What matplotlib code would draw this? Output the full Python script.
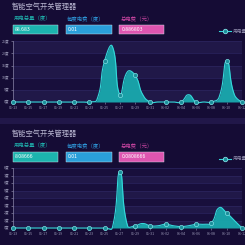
import numpy as np
import matplotlib
matplotlib.use("Agg")
import matplotlib.pyplot as plt
from matplotlib.patches import Rectangle

plt.rcParams['font.family'] = ['Noto Sans CJK SC', 'DejaVu Sans']

# ---- data ----
dates = ['05-13', '05-14', '05-15', '05-16', '05-17', '05-18', '05-19', '05-20',
         '05-21', '05-22', '05-23', '05-24', '05-25', '05-26', '05-27', '05-28',
         '05-29', '05-30', '05-31', '06-01', '06-02', '06-03', '06-04', '06-05',
         '06-06', '06-07', '06-08', '06-09', '06-10', '06-11', '06-12']
usage_top = [0, 0, 0, 0, 0, 0, 0, 0, 0, 0, 0, 1, 17, 23, 3, 12.5,
             11, 3, 0, 0, 0, 0, 0, 3, 0, 0, 0, 2, 17, 3, 0]
usage_bottom = [0, 0, 0, 0, 0, 0, 0, 0, 0, 0, 0, 0, 0, 0, 7.5, 0.3,
                0.3, 0.6, 0.3, 0.3, 0.5, 0.3, 0.2, 0.3, 0.5, 0.5, 0.7, 2.7, 2.0, 1.0, 0]
top_ticks = [0, 5, 10, 15, 20, 25]
bottom_ticks = [0, 1, 2, 3, 4, 5, 6, 7, 8]

title = '智能空气开关管理器'
box_labels = ['用电总量（度）', '每度电费（度）', '总电费（元）']
top_values = ['88.683', '0.01', '0.886803']
bottom_values = ['8.08666', '0.01', '0.0808666']
legend_label = '用电量'

BG = '#150c35'
BAND_A = '#201848'
BAND_B = '#180f3c'
LABEL_COLORS = ['#1fb0ac', '#2d93d4', '#c4439e']
BOX_COLORS = ['#1cb4ae', '#2a9fda', '#de55b0']
LINE = '#35d8da'
FILL = '#19a9ae'

W = H = 245
fig = plt.figure(figsize=(2.45, 2.45), dpi=100)
fig.patch.set_facecolor(BG)


def fx(x):
    return x / W


def fy(y):
    return 1 - y / H


def smooth_path(ax, xs, ys, s=0.5, n=24):
    P = ax.transData.transform(np.column_stack([xs, ys]))
    m = len(P)
    cin = P.copy()
    cout = P.copy()
    for i in range(1, m - 1):
        v = P[i + 1] - P[i - 1]
        lp = np.hypot(*(P[i] - P[i - 1]))
        ln = np.hypot(*(P[i + 1] - P[i]))
        r = ln / (ln + lp) if ln + lp > 0 else 0.5
        cout[i] = P[i] + v * s * r
        cin[i] = P[i] - v * s * (1 - r)
    t = np.linspace(0, 1, n)[:, None]
    segs = []
    for i in range(m - 1):
        a, b, c, d = P[i], cout[i], cin[i + 1], P[i + 1]
        seg = ((1 - t) ** 3) * a + 3 * ((1 - t) ** 2) * t * b + 3 * (1 - t) * t ** 2 * c + t ** 3 * d
        segs.append(seg if i == 0 else seg[1:])
    pts = np.vstack(segs)
    return ax.transData.inverted().transform(pts)


def panel(y0, values, box_vals, ticks, ax_top, ax_bot):
    # title, labels, boxes
    fig.text(fx(12), fy(y0 + 7), title, color='#b9b7d2', fontsize=5.2, va='center', ha='left')
    box_x = [(12.7, 58.3), (66, 111.7), (119.3, 164.3)]
    for (xa, xb), lab, lc, bc, val in zip(box_x, box_labels, LABEL_COLORS, BOX_COLORS, box_vals):
        fig.text(fx(xa + 1), fy(y0 + 18), lab, color=lc, fontsize=3.9, va='center', ha='left')
        fig.patches.append(Rectangle((fx(xa), fy(y0 + 34.5)), fx(xb - xa), (9.5) / H,
                                     transform=fig.transFigure, facecolor=bc,
                                     edgecolor='#d8e8f0', linewidth=0.3, zorder=1))
        fig.text(fx(xa + 2), fy(y0 + 29.7), val, color='white', fontsize=3.7, va='center',
                 ha='left', zorder=5)

    # legend
    fig.lines.append(plt.Line2D([fx(219), fx(231)], [fy(y0 + 31.5)] * 2, transform=fig.transFigure,
                                color=LINE, linewidth=0.8))
    fig.lines.append(plt.Line2D([fx(225)], [fy(y0 + 31.5)], transform=fig.transFigure, marker='o',
                                markersize=3.2, markerfacecolor='#1a8f9a', markeredgecolor='#7fe0e4',
                                markeredgewidth=0.6))
    fig.text(fx(232.5), fy(y0 + 31.5), legend_label, color='#8f8dac', fontsize=3.4, va='center', ha='left')

    ax = fig.add_axes([fx(13), fy(ax_bot), fx(242) - fx(13), (ax_bot - ax_top) / H])
    ax.set_facecolor(BG)
    ax.set_xlim(0, len(dates) - 1)
    ax.set_ylim(ticks[0], ticks[-1])
    for k in range(len(ticks) - 1):
        ax.axhspan(ticks[k], ticks[k + 1], color=BAND_A if k % 2 == 0 else BAND_B, zorder=0, linewidth=0)
    for tk in ticks[1:]:
        ax.axhline(tk, color='#2c2560', linewidth=0.5, zorder=1)

    x = np.arange(len(values))
    curve = smooth_path(ax, x, values)
    ax.fill_between(curve[:, 0], 0, curve[:, 1], color=FILL, alpha=0.95, linewidth=0, zorder=2)
    ax.plot(curve[:, 0], curve[:, 1], color=LINE, linewidth=0.8, zorder=3, clip_on=False)
    idx = x[::2]
    ax.plot(idx, np.array(values)[::2], linestyle='none', marker='o', markersize=3.0,
            markerfacecolor='#1a8f9a', markeredgecolor='#7fe0e4', markeredgewidth=0.5,
            zorder=4, clip_on=False)

    ax.set_yticks(ticks)
    ax.set_yticklabels([f'{t}度' for t in ticks])
    ax.set_xticks(idx)
    ax.set_xticklabels([dates[i] for i in idx])
    ax.tick_params(axis='y', colors='#9c9ab8', labelsize=2.6, length=1.5, width=0.4, pad=1)
    ax.tick_params(axis='x', colors='#9c9ab8', labelsize=2.6, length=1.2, width=0.4, pad=1.5)
    for sp in ['top', 'right', 'bottom']:
        ax.spines[sp].set_visible(False)
    ax.spines['left'].set_color('#8a86a8')
    ax.spines['left'].set_linewidth(0.5)
    return ax


panel(0, usage_top, top_values, top_ticks, 41.3, 102)
# separator strip between panels
fig.patches.append(Rectangle((0, fy(123.5)), 1, 6 / H, transform=fig.transFigure,
                             facecolor='#211749', edgecolor='none'))
panel(127, usage_bottom, bottom_values, bottom_ticks, 168, 228)

fig.savefig('out.png', dpi=100, facecolor=BG)
